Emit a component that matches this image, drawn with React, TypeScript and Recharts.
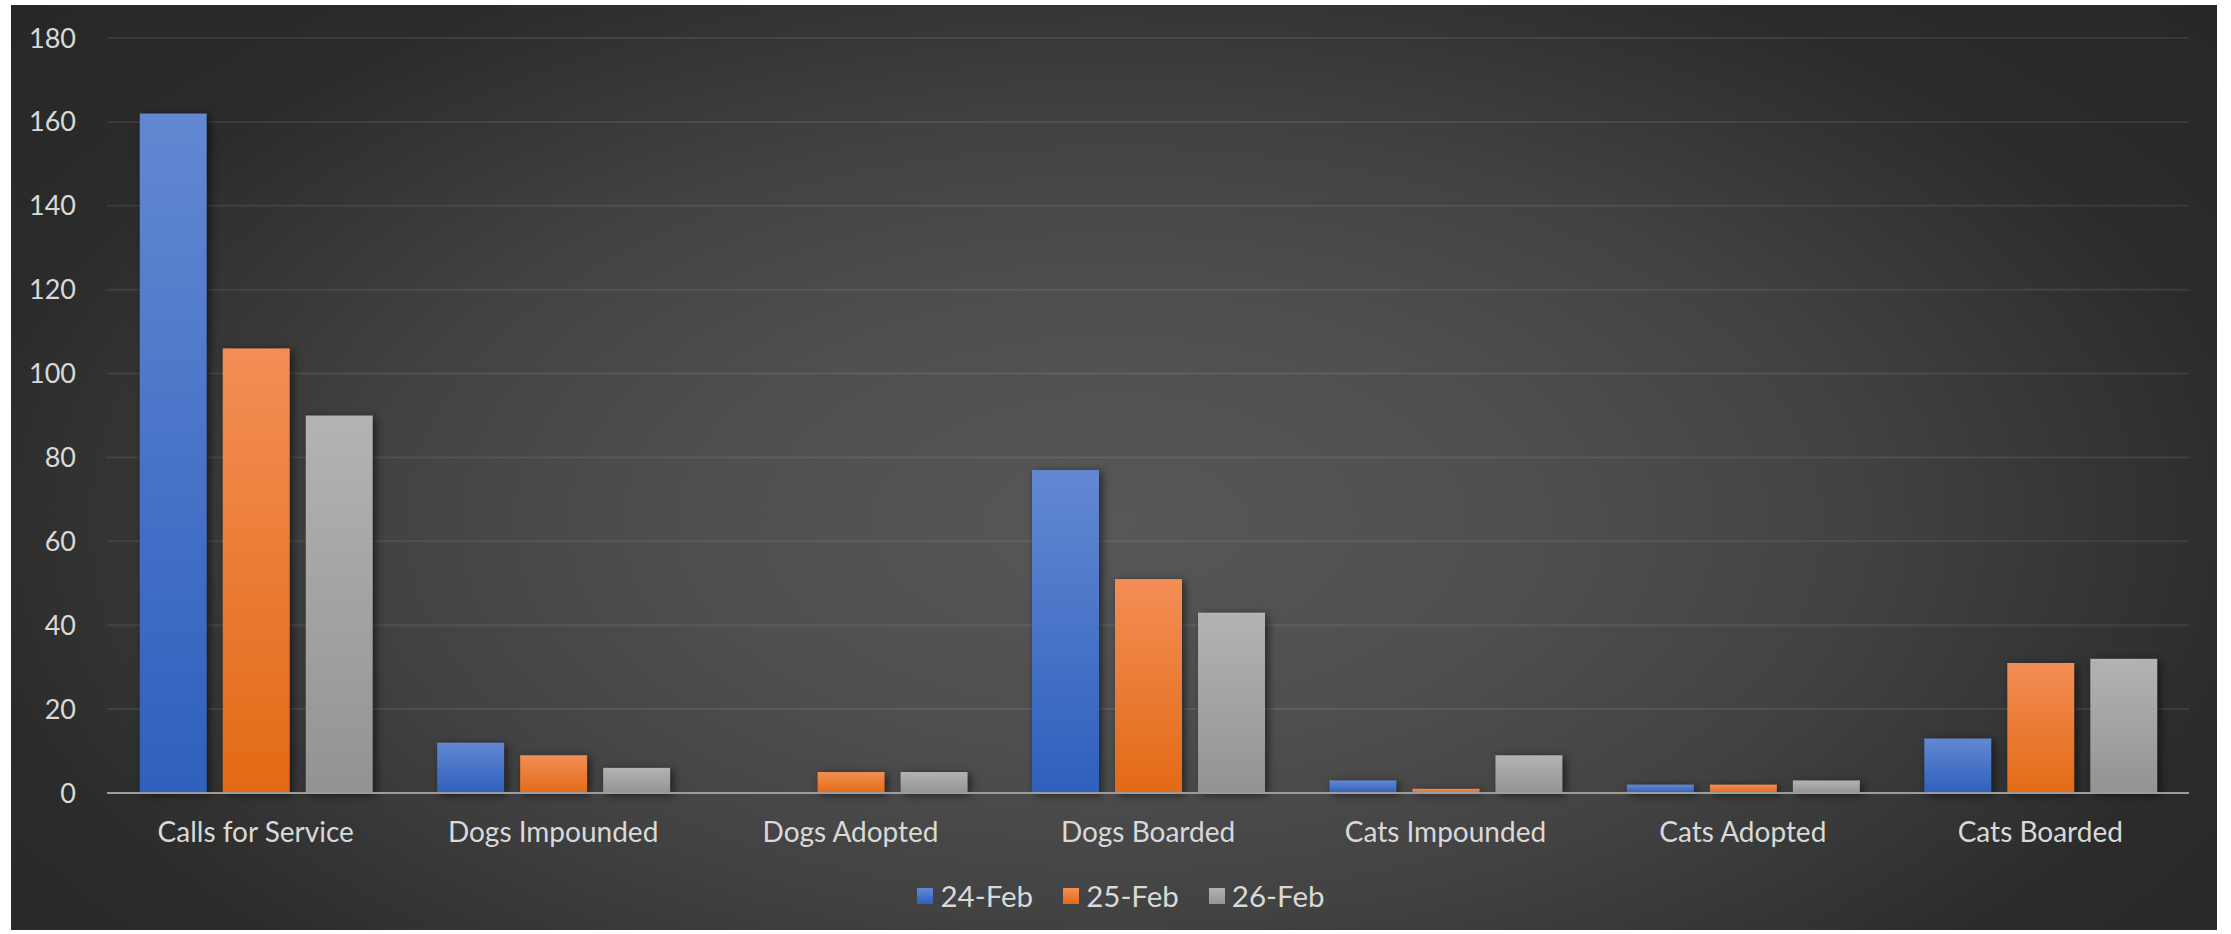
import React from 'react';
import { BarChart, Bar, XAxis, YAxis, CartesianGrid, Legend } from 'recharts';

const categories = [
  'Calls for Service',
  'Dogs Impounded',
  'Dogs Adopted',
  'Dogs Boarded',
  'Cats Impounded',
  'Cats Adopted',
  'Cats Boarded',
];
const feb24 = [162, 12, 0, 77, 3, 2, 13];
const feb25 = [106, 9, 5, 51, 1, 2, 31];
const feb26 = [90, 6, 5, 43, 9, 3, 32];
const seriesNames = ['24-Feb', '25-Feb', '26-Feb'];
const yTicks = [0, 20, 40, 60, 80, 100, 120, 140, 160, 180];

const gradients: Record<string, [string, string]> = {
  '24-Feb': ['#6388d2', '#2e60bd'],
  '25-Feb': ['#f38e55', '#e36a15'],
  '26-Feb': ['#b3b3b3', '#939393'],
};
const gradId: Record<string, string> = {
  '24-Feb': 'gBlue',
  '25-Feb': 'gOrange',
  '26-Feb': 'gGray',
};

const data = categories.map((name, i) => ({
  name,
  [seriesNames[0]]: feb24[i],
  [seriesNames[1]]: feb25[i],
  [seriesNames[2]]: feb26[i],
}));

const FONT = 'Lato, "Open Sans", sans-serif';
const TEXT = '#d9d9d9';

const ShadowBar = (props: any) => {
  const { x, y, width, height, fill } = props;
  if (!height || height <= 0) return null;
  return (
    <rect
      x={x}
      y={y}
      width={width}
      height={height}
      fill={fill}
      style={{ filter: 'drop-shadow(3px 2px 4px rgba(0,0,0,0.55))' }}
    />
  );
};

const LegendContent = () => (
  <div
    style={{
      display: 'flex',
      justifyContent: 'center',
      alignItems: 'center',
      fontFamily: FONT,
      paddingLeft: 14,
    }}
  >
    {seriesNames.map((s, i) => (
      <div
        key={s}
        style={{ display: 'flex', alignItems: 'center', marginRight: i < seriesNames.length - 1 ? 30 : 0 }}
      >
        <div
          style={{
            width: 16,
            height: 16,
            marginRight: 7,
            background: `linear-gradient(${gradients[s][0]}, ${gradients[s][1]})`,
          }}
        />
        <span style={{ color: TEXT, fontSize: 29.5 }}>{s}</span>
      </div>
    ))}
  </div>
);

export default function App() {
  return (
    <div
      style={{
        position: 'absolute',
        left: 11,
        top: 5,
        width: 2206,
        height: 925,
        background:
          'radial-gradient(ellipse 75% 95% at 50% 56%, #575757 0%, #4f4f4f 25%, #424242 45%, #2b2b2b 70%, #252525 100%)',
      }}
    >
      <BarChart
        width={2206}
        height={925}
        data={data}
        margin={{ top: 33, right: 28, left: 0, bottom: 77 }}
        barCategoryGap="11%"
        barGap={16}
        style={{ fontFamily: FONT }}
      >
        <defs>
          {seriesNames.map((s) => (
            <linearGradient key={s} id={gradId[s]} x1="0" y1="0" x2="0" y2="1">
              <stop offset="0%" stopColor={gradients[s][0]} />
              <stop offset="100%" stopColor={gradients[s][1]} />
            </linearGradient>
          ))}
        </defs>
        <CartesianGrid vertical={false} stroke="rgba(255,255,255,0.08)" strokeWidth={2} />
        <XAxis
          dataKey="name"
          height={60}
          axisLine={{ stroke: '#9c9c9c', strokeWidth: 2 }}
          tickLine={false}
          tickSize={0}
          tickMargin={29}
          tick={{ fill: TEXT, fontSize: 28, fontFamily: FONT }}
          interval={0}
        />
        <YAxis
          width={96}
          domain={[0, 180]}
          ticks={yTicks}
          axisLine={false}
          tickLine={false}
          tickSize={0}
          tickMargin={31}
          tick={{ fill: TEXT, fontSize: 27, fontFamily: FONT }}
        />
        <Legend
          layout="horizontal"
          verticalAlign="middle"
          align="center"
          content={<LegendContent />}
          wrapperStyle={{ top: 873, left: 0, width: 2206 }}
        />
        {seriesNames.map((s) => (
          <Bar
            key={s}
            dataKey={s}
            fill={`url(#${gradId[s]})`}
            shape={<ShadowBar />}
            isAnimationActive={false}
          />
        ))}
      </BarChart>
    </div>
  );
}
